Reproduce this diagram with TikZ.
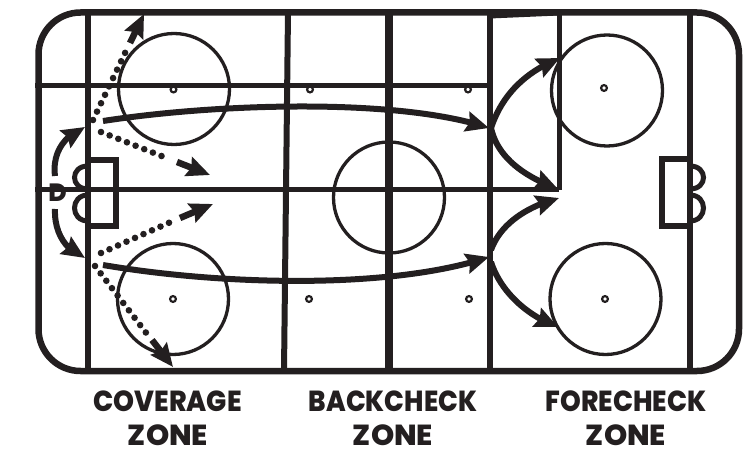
\documentclass[tikz,border=0pt]{standalone}
\usepackage{fontspec}
\setmainfont{Poppins}[BoldFont={* ExtraBold}]
\usetikzlibrary{arrows.meta,bending,calc}
\definecolor{ink}{HTML}{231F20}
\tikzset{
  rinkline/.style={draw=ink,line width=#1},
  ring/.style={draw=ink,line width=3.3pt},
  spot/.style={draw=ink,line width=2.2pt,fill=white},
  rush/.style={draw=ink,line width=6pt,-{Stealth[length=23pt,width=20pt,inset=3pt,flex=1]}},
  stalk/.style={draw=ink,line width=6.5pt,-{Stealth[length=23pt,width=20pt,inset=3pt]}},
  dots/.style={draw=ink,line width=6.6pt,line cap=round,dash pattern=on 0pt off 9.3pt},
  crease/.style={draw=ink,line width=5pt},
  zonetext/.style={text=ink,inner sep=0pt,font=\bfseries\fontsize{29}{30}\selectfont}
}
\newcommand{\zonelabel}[2]{\scalebox{#1}[1]{#2}}
\begin{document}
\begin{tikzpicture}[x=1pt,y=-1pt]
\useasboundingbox (0,0) rectangle (753,449);
% player and target positions
\coordinate (lt) at (93,120);
\coordinate (lb) at (95,266);
\coordinate (ltA) at (103,121);
\coordinate (lbA) at (103,265);
\coordinate (blueU) at (489,128);
\coordinate (blueL) at (489,257);
\coordinate (fU) at (491,128);
\coordinate (fL) at (491,250);
\coordinate (fL2) at (491,262);
% faceoff spots
\foreach \n/\p in {s1/{173.5,89.5},s2/{310,89.5},s3/{468,89.5},s4/{604,88},s5/{173,299},s6/{309,299},s7/{469,299},s8/{605,299}}
  \draw[spot] (\p) circle (2.9pt);
% circles
\draw[ring] (174,89) circle (55.5pt);
\draw[ring] (173,299) circle (55.5pt);
\draw[ring] (389,197.5) circle (55.5pt);
\draw[ring] (607,90.5) circle (55.5pt);
\draw[ring] (605.5,299) circle (55.5pt);
% rink
\draw[rinkline=6.5pt,rounded corners=42pt] (38.5,12.5) rectangle (739,371);
\draw[rinkline=6pt] (88,12) -- (88,371);
\draw[rinkline=6pt] (288,12) -- (284,371);
\draw[rinkline=8pt] (389,10) -- (389,374);
\draw[rinkline=6.5pt] (490,12) -- (490,371);
\draw[rinkline=5pt] (559,12) -- (559,190);
\draw[rinkline=6pt] (690,12) -- (690,371);
\fill[ink] (490,10) -- (559,10) -- (559,15.5) -- (490,18.5) -- cycle;
\draw[rinkline=5pt] (35,86) -- (490,86);
\draw[rinkline=5pt] (35,190) -- (559,190);
% goals and creases
\draw[rinkline=6pt] (88,160) -- (116,160) -- (116,226) -- (88,226);
\draw[rinkline=6pt] (690,159) -- (662,159) -- (662,226) -- (690,226);
\draw[crease] (88,166) .. controls (70,166) and (70,189) .. (88,189);
\draw[crease] (88,195) .. controls (70,195) and (70,221) .. (88,221);
\draw[crease] (690,166) .. controls (708,166) and (708,189) .. (690,189);
\draw[crease] (690,195) .. controls (708,195) and (708,221) .. (690,221);
\node[text=ink,inner sep=0pt,font=\bfseries\fontsize{25}{25}\selectfont] (dman) at (57.5,193) {D};
% dotted options
\coordinate (u1) at (126,51); \coordinate (u2) at (130,43); \coordinate (u3) at (144,14);
\coordinate (r1) at (169,159); \coordinate (r2) at (177,162); \coordinate (r3) at (210,175);
\coordinate (q1) at (173,221); \coordinate (q2) at (180,218); \coordinate (q3) at (213,204);
\coordinate (d1) at (147,334); \coordinate (d2) at (152,340); \coordinate (d3) at (173,367);
\draw[dots] (lt) -- (u1);
\draw[stalk] (u2) -- (u3);
\draw[dots] ($(lt)+(8,12)$) -- (r1);
\draw[stalk] (r2) -- (r3);
\draw[dots] ($(lb)+(6,-13)$) -- (q1);
\draw[stalk] (q2) -- (q3);
\draw[dots] (lb) -- (d1);
\draw[stalk] (d2) -- (d3);
% skating paths
\draw[rush] (ltA) .. controls (220,103) and (400,98) .. (blueU);
\draw[rush] (lbA) .. controls (220,285) and (390,290) .. (blueL);
\draw[rush] (fU) .. controls (502,95) and (525,72) .. (560,58);
\draw[rush] (fU) .. controls (497,155) and (520,175) .. (558,189);
\draw[rush] (fL) .. controls (500,225) and (525,207) .. (559,198);
\draw[rush] (fL2) .. controls (500,290) and (525,315) .. (558,327);
\draw[rush] (55,176) .. controls (52,152) and (65,135) .. (85,127);
\draw[rush] (55,209) .. controls (54,235) and (68,252) .. (85,258);
% zone labels
\node[zonetext] (z1a) at (167.5,401) {\zonelabel{0.92}{COVERAGE}};
\node[zonetext] (z1b) at (168,435.5) {\zonelabel{1.02}{ZONE}};
\node[zonetext] (z2a) at (393,401) {\zonelabel{0.90}{BACKCHECK}};
\node[zonetext] (z2b) at (393,435.5) {\zonelabel{1.02}{ZONE}};
\node[zonetext] (z3a) at (626,401) {\zonelabel{0.91}{FORECHECK}};
\node[zonetext] (z3b) at (626,435.5) {\zonelabel{1.02}{ZONE}};
\end{tikzpicture}
\end{document}
